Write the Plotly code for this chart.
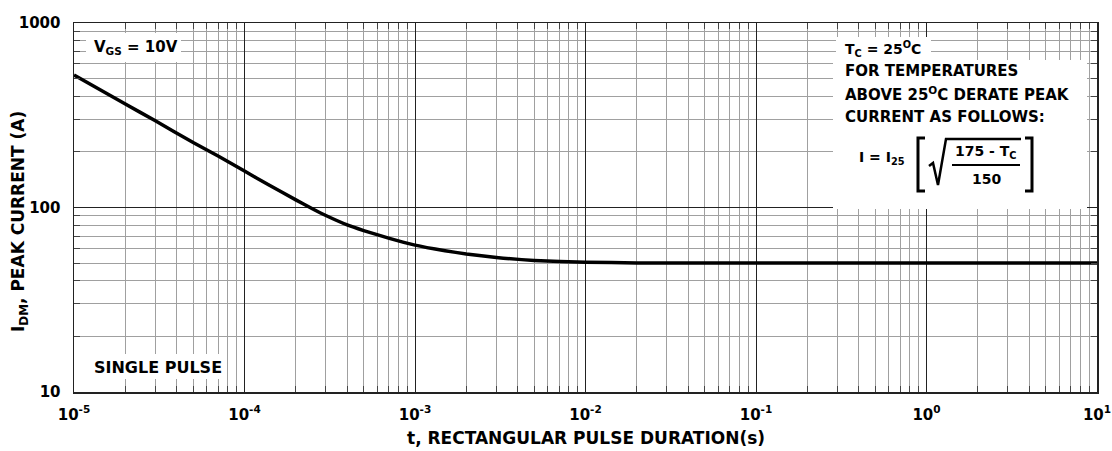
import plotly.graph_objects as go

# ---- data ----
pulse_t = [1e-5, 2e-5, 3e-5, 5e-5, 7e-5, 1e-4, 1.4e-4, 2e-4, 2.5e-4, 3e-4,
           4e-4, 5e-4, 7e-4, 1e-3, 1.5e-3, 2e-3, 3e-3, 5e-3, 1e-2,
           2e-2, 5e-2, 1e-1, 1, 10]
peak_i = [522, 364, 295, 225, 190, 157.5, 132, 110, 98.5, 90.5,
          80.5, 75, 68.2, 62.5, 58.3, 56.0, 53.6, 51.6, 50.5,
          50.1, 50, 50, 50, 50]

x_tickvals = [1e-5, 1e-4, 1e-3, 1e-2, 1e-1, 1, 10]
x_ticktext = ["10<sup>-5</sup>", "10<sup>-4</sup>", "10<sup>-3</sup>", "10<sup>-2</sup>",
              "10<sup>-1</sup>", "10<sup>0</sup>", "10<sup>1</sup>"]
y_tickvals = [10, 100, 1000]
y_ticktext = ["10", "100", "1000"]

x_minor = [m * 10.0 ** e for e in range(-5, 1) for m in range(2, 10)]
y_minor = [m * 10.0 ** e for e in range(1, 3) for m in range(2, 10)]

FONT = "DejaVu Sans"
W, H = 1112, 451
L, R, T, B = 74, 1097, 23, 392


def px(x):
    return (x - L) / (R - L)


def py(y):
    return (B - y) / (B - T)


fig = go.Figure()
fig.add_trace(go.Scatter(x=pulse_t, y=peak_i, mode="lines",
                         line=dict(color="black", width=3.5, shape="spline", smoothing=0.4),
                         hoverinfo="skip", showlegend=False))

axis_common = dict(
    showline=True, linecolor="#222", linewidth=1.5, mirror="allticks",
    ticks="inside", ticklen=8, tickcolor="#222",
    showgrid=True, gridcolor="#222", gridwidth=1, zeroline=False,
    tickfont=dict(family=FONT, size=15, color="black", weight="bold"),
)

fig.update_xaxes(type="log", range=[-5, 1], tickmode="array",
                 tickvals=x_tickvals, ticktext=x_ticktext, ticklabelstandoff=8,
                 minor=dict(tickmode="array", tickvals=x_minor, ticks="inside", ticklen=6,
                            tickcolor="#444", showgrid=True, gridcolor="#a0a0a0", gridwidth=1),
                 **axis_common)
fig.update_yaxes(type="log", range=[1, 3], tickmode="array",
                 tickvals=y_tickvals, ticktext=y_ticktext, ticklabelstandoff=9,
                 minor=dict(tickmode="array", tickvals=y_minor, ticks="inside", ticklen=6,
                            tickcolor="#444", showgrid=True, gridcolor="#a0a0a0", gridwidth=1),
                 **axis_common)

shapes = []
# white background boxes behind the labels
for (x0, y0, x1, y1) in [(86, 33, 181, 62), (88, 354, 222, 379),
                         (836, 37, 931, 61), (833, 60, 1087, 209)]:
    shapes.append(dict(type="rect", xref="paper", yref="paper",
                       x0=px(x0), x1=px(x1), y0=py(y1), y1=py(y0),
                       fillcolor="white", line=dict(width=0), layer="above"))


def path(points):
    return "M " + " L ".join(f"{px(x):.5f},{py(y):.5f}" for x, y in points)


# brackets, radical and fraction bar of the derating formula
shapes.append(dict(type="path", xref="paper", yref="paper", layer="above",
                   path=path([(925, 138), (918, 138), (918, 191), (925, 191)]),
                   line=dict(color="black", width=3)))
shapes.append(dict(type="path", xref="paper", yref="paper", layer="above",
                   path=path([(1025, 138), (1032, 138), (1032, 191), (1025, 191)]),
                   line=dict(color="black", width=3)))
shapes.append(dict(type="path", xref="paper", yref="paper", layer="above",
                   path=path([(929, 166), (933, 163), (938, 185), (946, 139), (1021, 139)]),
                   line=dict(color="black", width=2.5)))
shapes.append(dict(type="line", xref="paper", yref="paper", layer="above",
                   x0=px(952), x1=px(1020), y0=py(165), y1=py(165),
                   line=dict(color="black", width=2)))

annotations = []


def txt(text, x, y, size=14, xanchor="left", angle=0):
    annotations.append(dict(text=text, x=px(x), y=py(y), xref="paper", yref="paper",
                            xanchor=xanchor, yanchor="middle", showarrow=False,
                            textangle=angle,
                            font=dict(family=FONT, size=size, color="black", weight="bold")))


txt("V<sub>GS</sub> = 10V", 92, 47, size=15)
txt("SINGLE PULSE", 92, 367, size=16)
txt("T<sub>C</sub> = 25<sup>O</sup>C", 843, 49, size=14)
txt("FOR TEMPERATURES", 843, 71, size=15)
txt("ABOVE 25<sup>O</sup>C DERATE PEAK", 843, 94, size=15)
txt("CURRENT AS FOLLOWS:", 843, 117, size=15)
txt("I = I<sub>25</sub>", 857, 158, size=14)
txt("175 - T<sub>C</sub>", 986, 152, size=14, xanchor="center")
txt("150", 986, 179, size=14, xanchor="center")
txt("t, RECTANGULAR PULSE DURATION(s)", 586, 438, size=17, xanchor="center")
txt("I<sub>DM</sub>, PEAK CURRENT (A)", 20, 222, size=17, xanchor="center", angle=-90)

fig.update_layout(
    width=W, height=H,
    margin=dict(l=L, r=W - R, t=T, b=H - B, autoexpand=False),
    paper_bgcolor="white", plot_bgcolor="white",
    shapes=shapes, annotations=annotations,
    showlegend=False,
)

fig.write_html("out.html",
               config={"displayModeBar": False, "staticPlot": True},
               post_script="document.body.style.margin='0';document.body.style.overflow='hidden';")
